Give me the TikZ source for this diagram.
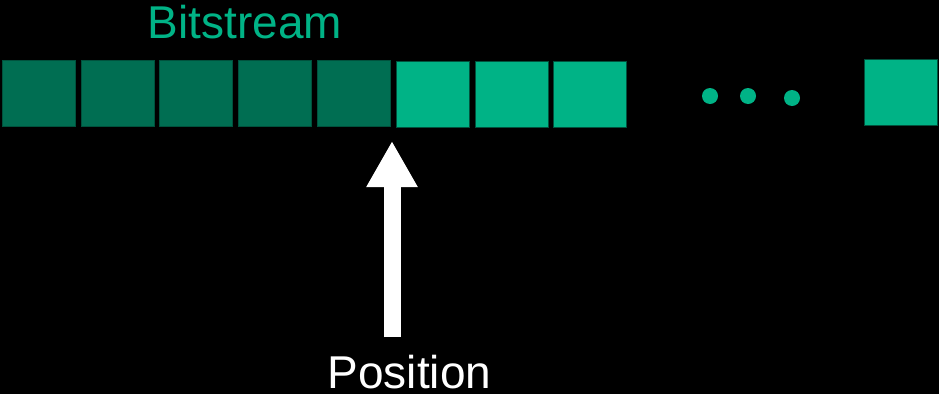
\documentclass[tikz,border=0pt]{standalone}
\usepackage{fontspec}
\setmainfont{Liberation Sans}
\usetikzlibrary{arrows.meta}
\definecolor{darkbit}{HTML}{006E52}
\definecolor{lightbit}{HTML}{00B386}
\definecolor{bitedge}{HTML}{00523D}
\begin{document}
\begin{tikzpicture}[x=1pt,y=-1pt,
  bit/.style={draw=bitedge,line width=0.8pt,minimum width=73pt,minimum height=66pt,inner sep=0pt},
  oldbit/.style={bit,fill=darkbit},
  newbit/.style={bit,fill=lightbit},
  dot/.style={circle,fill=lightbit,inner sep=0pt,minimum size=16pt},
  label/.style={font=\fontsize{46}{50}\selectfont,inner sep=0pt,anchor=base},
  posarrow/.style={white,line width=17pt,-{Triangle[width=48pt,length=46pt]}}]
\fill[black] (0,0) rectangle (939,394);
\useasboundingbox (0,0) rectangle (939,394);
\node[label,text=lightbit] (title) at (245,38) {Bitstream};
\node[oldbit] (b1) at (39.2,93.5) {};
\node[oldbit] (b2) at (117.5,93.5) {};
\node[oldbit] (b3) at (195.5,93.5) {};
\node[oldbit] (b4) at (275,93.5) {};
\node[oldbit] (b5) at (354,93.5) {};
\node[newbit] (b6) at (432.5,94) {};
\node[newbit] (b7) at (511.5,94) {};
\node[newbit] (b8) at (590,94) {};
\node[dot] (d1) at (710,96) {};
\node[dot] (d2) at (748,96) {};
\node[dot] (d3) at (792,98) {};
\node[newbit] (bn) at (900.5,92.5) {};
\node[label,text=white] (pos) at (409.5,388) {Position};
\coordinate (tail) at (392,337);
\coordinate (tip) at (392,141);
\draw[posarrow] (tail) -- (tip);
\end{tikzpicture}
\end{document}
